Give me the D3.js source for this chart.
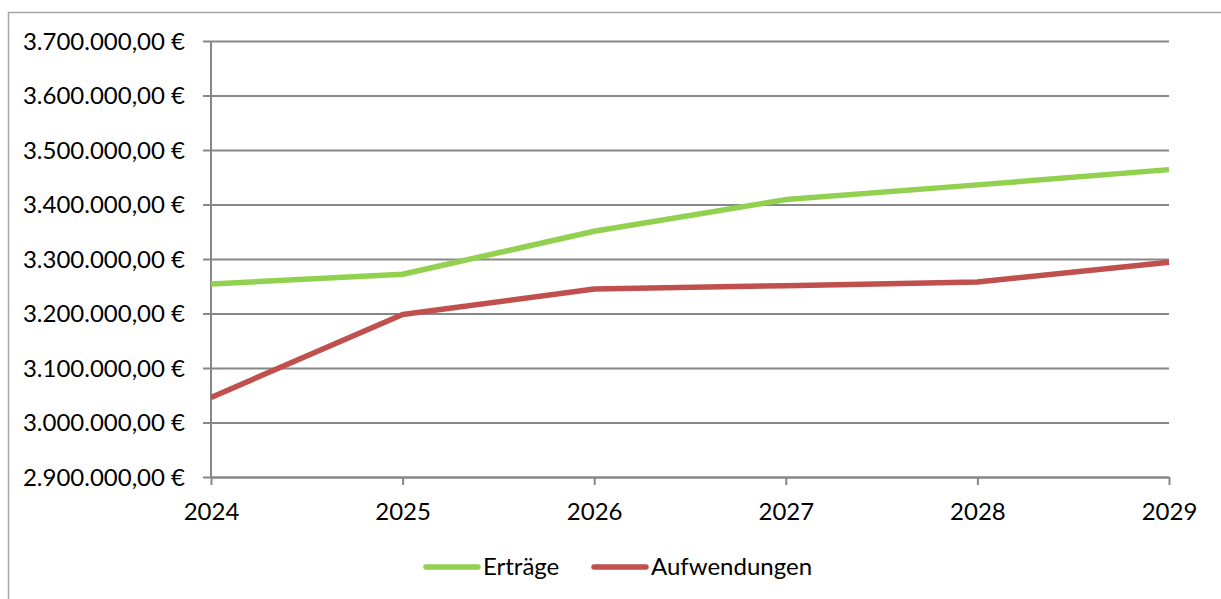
<!DOCTYPE html>
<html>
<head>
<meta charset="utf-8">
<script src="https://cdn.jsdelivr.net/npm/d3@7"></script>
<style>
  body { margin: 0; background: #fff; }
  text { font-family: Lato, "Open Sans", sans-serif; fill: #000; }
</style>
</head>
<body>
<div id="chart"></div>
<script>
var years = [2024, 2025, 2026, 2027, 2028, 2029];
var ertraege = [3254000, 3272000, 3351000, 3409000, 3436000, 3464000];
var aufwendungen = [3046000, 3198000, 3245000, 3251000, 3258000, 3294000];
var yTicks = [2900000, 3000000, 3100000, 3200000, 3300000, 3400000, 3500000, 3600000, 3700000];
var seriesNames = ["Erträge", "Aufwendungen"];
var seriesColors = ["#92d050", "#c0504d"];

var width = 1221, height = 599;
var plotL = 211, plotR = 1169, plotT = 41, plotB = 477;

var svg = d3.select("#chart").append("svg")
  .attr("width", width)
  .attr("height", height);

// chart frame (runs off the right and bottom edge like the screenshot)
svg.append("rect")
  .attr("x", 8.5).attr("y", 12.5)
  .attr("width", 1230).attr("height", 600)
  .attr("fill", "none")
  .attr("stroke", "#a6a6a6")
  .attr("stroke-width", 1.5);

var x = d3.scaleLinear().domain([2024, 2029]).range([plotL, plotR]);
var y = d3.scaleLinear().domain([2900000, 3700000]).range([plotB, plotT]);

var fmt = d3.formatLocale({decimal: ",", thousands: ".", grouping: [3], currency: ["", " €"]});
var money = fmt.format(",.2f");

// gridlines + y ticks
var yAxis = svg.append("g")
  .attr("transform", "translate(" + plotL + ",0)")
  .call(d3.axisLeft(y).tickValues(yTicks).tickSize(-(plotR - plotL)).tickSizeOuter(0)
    .tickFormat(function(d){ return money(d) + " €"; }));
yAxis.select(".domain").remove();
yAxis.selectAll(".tick line")
  .attr("x1", -8)
  .attr("stroke", "#878787")
  .attr("stroke-width", 2);
yAxis.selectAll(".tick text")
  .attr("x", -26)
  .attr("dy", "0.35em")
  .style("font-size", "24px");

// y axis line
svg.append("line")
  .attr("x1", plotL).attr("x2", plotL)
  .attr("y1", plotT).attr("y2", plotB)
  .attr("stroke", "#878787").attr("stroke-width", 2);

// x axis
var xAxis = svg.append("g")
  .attr("transform", "translate(0," + plotB + ")")
  .call(d3.axisBottom(x).tickValues(years).tickSize(8).tickSizeOuter(0)
    .tickFormat(d3.format("d")));
xAxis.select(".domain")
  .attr("stroke", "#878787").attr("stroke-width", 2);
xAxis.selectAll(".tick line")
  .attr("stroke", "#878787").attr("stroke-width", 2);
xAxis.selectAll(".tick text")
  .attr("y", 35)
  .attr("dy", "0.35em")
  .style("font-size", "24px");

var line = d3.line()
  .x(function(d, i){ return x(years[i]); })
  .y(function(d){ return y(d); });

[ertraege, aufwendungen].forEach(function(vals, i){
  svg.append("path")
    .datum(vals)
    .attr("d", line)
    .attr("fill", "none")
    .attr("stroke", seriesColors[i])
    .attr("stroke-width", 5.5)
    .attr("stroke-linejoin", "round");
});

// legend
var legendPos = [424, 592];
var legend = svg.append("g");
seriesNames.forEach(function(name, i){
  var g = legend.append("g").attr("transform", "translate(" + legendPos[i] + ",567)");
  g.append("line")
    .attr("x1", 2).attr("x2", 54)
    .attr("stroke", seriesColors[i])
    .attr("stroke-width", 5.5)
    .attr("stroke-linecap", "round");
  g.append("text")
    .attr("x", 59)
    .attr("dy", "0.35em")
    .style("font-size", "24px")
    .text(name);
});
</script>
</body>
</html>
